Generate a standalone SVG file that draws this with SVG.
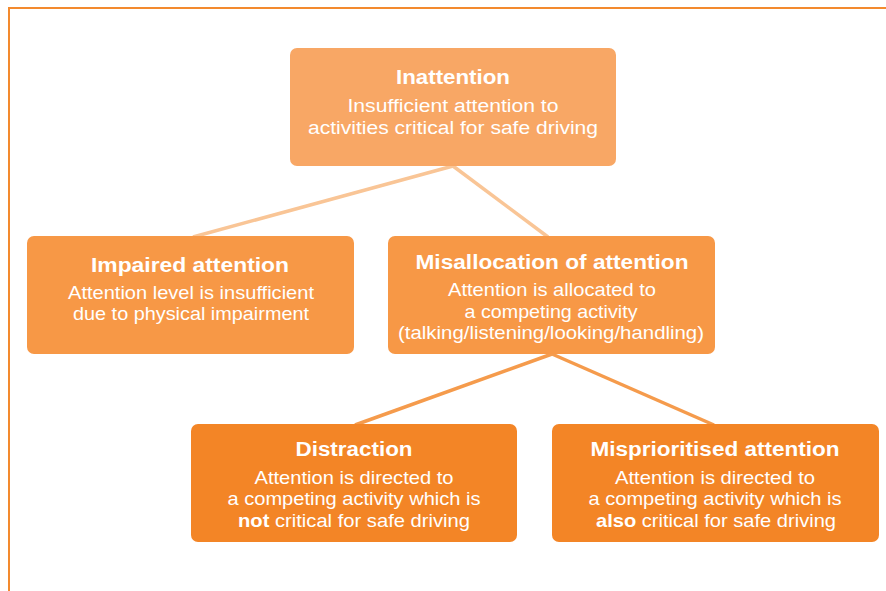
<svg xmlns="http://www.w3.org/2000/svg" width="886" height="591" viewBox="0 0 886 591">
<style>
.t{font-family:"Liberation Sans",Arial,sans-serif;font-weight:bold;font-size:20px;fill:#fff;text-anchor:middle}
.b{font-family:"Liberation Sans",Arial,sans-serif;font-size:18.5px;fill:#fff;text-anchor:middle}
.top .t{font-size:19.5px}
.top .b{font-size:18px}
.b tspan.k{font-weight:bold}
.c1{stroke:#F9C596;stroke-width:3.5;fill:none}
.c2{stroke:#F59B4C;stroke-width:3.5;fill:none}
</style>
<rect width="886" height="591" fill="#fff"/>
<path d="M9,591 V8 H886" fill="none" stroke="#F38A2E" stroke-width="2"/>
<g id="connectors">
<line class="c1" x1="453" y1="166" x2="193" y2="237"/>
<line class="c1" x1="453" y1="166" x2="548" y2="237"/>
<line class="c2" x1="552" y1="354" x2="355" y2="425"/>
<line class="c2" x1="552" y1="354" x2="714" y2="425"/>
</g>
<g id="inattention" class="top">
<rect x="290" y="48" width="326" height="118" rx="7" fill="#F8A765"/>
<text class="t" x="453" y="84" textLength="114" lengthAdjust="spacingAndGlyphs">Inattention</text>
<text class="b" x="453" y="112" textLength="211" lengthAdjust="spacingAndGlyphs">Insufficient attention to</text>
<text class="b" x="453" y="134" textLength="290" lengthAdjust="spacingAndGlyphs">activities critical for safe driving</text>
</g>
<g id="impaired">
<rect x="27" y="236" width="327" height="118" rx="7" fill="#F79846"/>
<text class="t" x="190" y="272" textLength="198" lengthAdjust="spacingAndGlyphs">Impaired attention</text>
<text class="b" x="191" y="299" textLength="246" lengthAdjust="spacingAndGlyphs">Attention level is insufficient</text>
<text class="b" x="191" y="320" textLength="236" lengthAdjust="spacingAndGlyphs">due to physical impairment</text>
</g>
<g id="misallocation">
<rect x="388" y="236" width="327" height="118" rx="7" fill="#F79846"/>
<text class="t" x="552" y="269" textLength="273" lengthAdjust="spacingAndGlyphs">Misallocation of attention</text>
<text class="b" x="552" y="296" textLength="208" lengthAdjust="spacingAndGlyphs">Attention is allocated to</text>
<text class="b" x="551" y="318" textLength="173" lengthAdjust="spacingAndGlyphs">a competing activity</text>
<text class="b" x="551" y="339" textLength="306" lengthAdjust="spacingAndGlyphs">(talking/listening/looking/handling)</text>
</g>
<g id="distraction">
<rect x="191" y="424" width="326" height="118" rx="7" fill="#F38526"/>
<text class="t" x="354" y="456" textLength="117" lengthAdjust="spacingAndGlyphs">Distraction</text>
<text class="b" x="354" y="484" textLength="199" lengthAdjust="spacingAndGlyphs">Attention is directed to</text>
<text class="b" x="354" y="505" textLength="253" lengthAdjust="spacingAndGlyphs">a competing activity which is</text>
<text class="b" x="354" y="527" textLength="232" lengthAdjust="spacingAndGlyphs"><tspan class="k">not</tspan> critical for safe driving</text>
</g>
<g id="misprioritised">
<rect x="552" y="424" width="327" height="118" rx="7" fill="#F38526"/>
<text class="t" x="715" y="456" textLength="249" lengthAdjust="spacingAndGlyphs">Misprioritised attention</text>
<text class="b" x="715" y="484" textLength="200" lengthAdjust="spacingAndGlyphs">Attention is directed to</text>
<text class="b" x="715" y="505" textLength="253" lengthAdjust="spacingAndGlyphs">a competing activity which is</text>
<text class="b" x="716" y="527" textLength="240" lengthAdjust="spacingAndGlyphs"><tspan class="k">also</tspan> critical for safe driving</text>
</g>
</svg>
